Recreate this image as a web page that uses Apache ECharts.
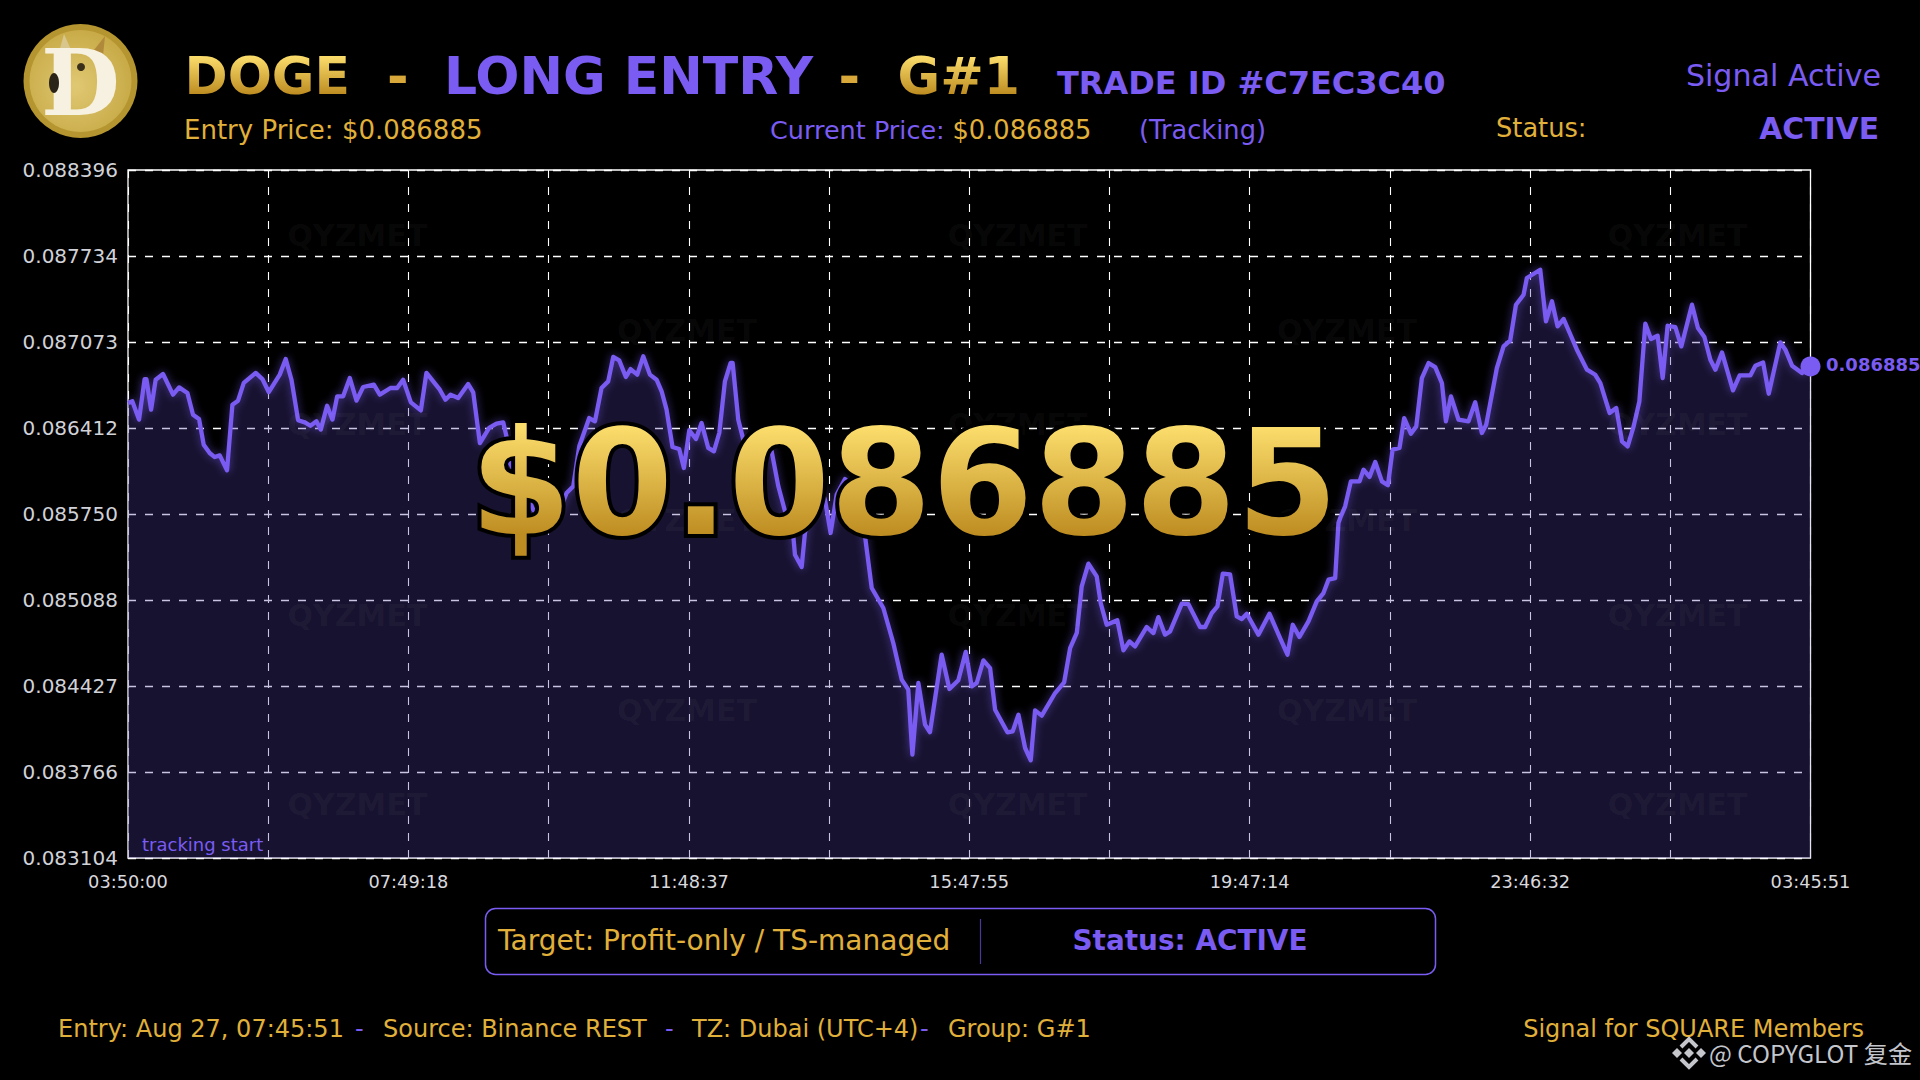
<!DOCTYPE html>
<html><head><meta charset="utf-8"><style>html,body{margin:0;padding:0;background:#000}#c{width:1920px;height:1080px}</style>
<script src="https://cdn.jsdelivr.net/npm/echarts@6/dist/echarts.min.js"></script></head><body><div id="c"></div>
<script>
const elapsedMinutes=[0,3.7,9.4,14.2,15.7,19.7,23.6,29.9,38.4,43.6,50.7,55.5,60.6,64.6,69.7,74,78.3,84.5,89.1,93.9,98.8,109,114.7,120.1,129.5,134.6,139.5,145.2,150.9,155.7,160.8,164.5,169.9,174.5,178.5,183.6,189.3,195,200.7,209.8,214.9,224,229.7,234.8,241.4,249.9,254.7,266.1,270.9,275.2,281.8,290.3,294.6,300.3,308.2,314.5,320.2,323,325.9,337.3,345.8,354.3,368.6,374.3,380,385.1,393.6,398.5,404.1,
409.8,414.1,419.2,424.9,428.9,434.6,439.7,445.4,451.1,455.4,459.6,464.7,470.4,474.4,479,484.7,489.5,495.2,500,504.6,509.4,514.3,516,520.8,525.1,545,549.3,555,560.7,567.8,569.2,574.9,577.7,584.8,590.5,594.8,599.6,604.8,611.9,621.8,629,634.7,644.6,653.1,660.3,665.9,669.4,674.5,680.2,684.4,694.4,701,708.6,714.9,720,724.3,730,735.7,740,750.5,755,759.9,765.6,770.4,774.1,779.8,791.2,798.9,804,809.7,813.9,819.6,
826.7,830.1,835.2,844.3,849.5,854.6,859.4,869.4,875.1,879.3,885,889.3,899.3,904.9,914.9,919.2,924.9,929.7,934.3,940.5,946.2,950.5,954.8,964.7,974.1,983.8,989.5,994,999.7,1007.4,1014.5,1020.2,1024.5,1030.2,1033,
1034.5,1038.7,1043.6,1051,1054.4,1059.5,1064.4,1070.1,1075.2,1079.2,1085.1,
1089.1,1094.8,1099.4,1104.2,1109.9,1115.6,1121.3,1124.7,1129,1135.5,1144,1149.7,1155.4,1159.1,1168.2,1173.9,1179.6,1184.5,1191,1193.8,1205.2,1210.1,1215.2,1220,1225.2,1236.5,1245.1,1252.2,1256.5,1264.4,1270.1,1275,1279.8,1284.9,1289.8,1294.9,1299.7,1305.4,1309.7,1313.9,1320.5,1325.6,1334.7,1339.8,1345.3,1350.4,1354.7,1360.3,1369.7,1375.4,1384.5,1388.8,1395.4,1400.2,1410.1,1414.4,1420.1,1428.6,1435.85];
const priceMicro=[86604,86617,86476,86788,86788,86553,86783,86827,86668,86724,86681,86514,86481,86283,86219,86188,86201,86086,86591,86622,86758,86835,86788,86688,86822,86942,86783,86471,86455,86429,86463,86399,86583,86476,86655,86655,86796,86622,86727,86745,86668,86719,86719,86783,86609,86547,86835,86706,86629,86668,86642,86750,86686,86296,86412,86445,86455,86347,86142,85963,85783,85706,85783,85912,85963,86271,86488,86463,86719,
86770,86958,86932,86804,86865,86822,86963,86822,86783,86694,86553,86265,86250,86104,86394,86327,86450,86258,86232,86373,86770,86912,86912,86476,86322,86322,86232,85963,85771,85578,85437,85342,85604,85860,85963,85860,85604,85899,86019,85937,85578,85181,85027,84758,84476,84399,83899,84450,84130,84071,84668,84404,84471,84689,84424,84450,84624,84565,84245,84071,84078,84206,83950,83855,84240,84199,84373,84455,84719,84835,85194,85368,
85270,85065,84898,84932,84701,84770,84732,84881,84834,84957,84822,84847,85060,85057,84881,84881,84988,85040,85291,85286,84963,84942,84983,84822,84983,84783,84668,84898,84804,84924,85078,85142,85245,85257,85681,
85719,85809,86001,86001,86091,86035,86150,86001,85971,86245,86258,
86488,86368,86424,86796,86911,86880,86757,86463,86655,86475,86463,86609,86373,86437,86873,87039,87086,87360,87437,87565,87629,87232,87386,87193,87250,87014,86860,86821,86757,86527,86565,86309,86270,86424,86616,87214,87096,87121,86796,87198,87188,87039,87360,87180,87111,86937,86860,86993,86701,86816,86816,86891,86916,86675,87070,87014,86891,86834,86885];
const yTickLabels=['0.083104','0.083766','0.084427','0.085088','0.085750','0.086412','0.087073','0.087734','0.088396'];
const xTickLabels=['03:50:00','07:49:18','11:48:37','15:47:55','19:47:14','23:46:32','03:45:51'];
const xLabelMinutes=[0,239.31,478.62,717.92,957.23,1196.54,1435.85];
const xGridMinutes=[0,119.65,239.31,358.96,478.62,598.27,717.92,837.58,957.23,1076.89,1196.54,1316.2,1435.85];
const currentPrice='0.086885';
const watermarkText='QYZMET';

const PURPLE='#7A5CF2',GOLD='#E0B03A',FONT='"DejaVu Sans"',GRAD='#FBDD6D';
function T(s,x,base,size,fill,o){o=o||{};
  return {type:'text',z:o.z||20,x:x,y:base-(o.k===undefined?.346:o.k)*size,silent:true,style:{text:s,fill:fill,font:(o.bold?'bold ':'')+size+'px '+(o.family||FONT),textAlign:o.align||'left',verticalAlign:'middle',stroke:o.stroke,lineWidth:o.lw,lineJoin:'round'}};
}
const el=[];
[[235,0],[330.6,1],[424,0],[520,1],[615,0],[710,1],[804.5,0]].forEach(r=>{
  (r[1]?[687,1347]:[357.5,1017.6,1677.6]).forEach(x=>{
    el.push({type:'text',z:4,x:x,y:r[0],silent:true,style:{text:watermarkText,fill:'rgba(255,255,255,0.045)',font:'bold 30px '+FONT,textAlign:'center',verticalAlign:'middle'}});
  });
});
// coin
el.push({type:'circle',z:20,shape:{cx:80.5,cy:81,r:57},style:{fill:'#B4952F'}});
el.push({type:'circle',z:20,shape:{cx:80.5,cy:81,r:51},style:{fill:{type:'radial',x:.45,y:.55,r:.7,colorStops:[{offset:0,color:'#E0C873'},{offset:1,color:'#C2A33C'}]}}});
el.push({type:'polygon',z:20,shape:{points:[[59,52],[64,34],[72,52]]},style:{fill:'#D9C68C'}});
el.push({type:'polygon',z:20,shape:{points:[[94,50],[105,36],[103,56]]},style:{fill:'#B08A3A'}});
el.push(T('D',41,114,91,'#F6F1E0',{bold:true,family:'"DejaVu Serif"'}));
el.push({type:'ellipse',z:21,shape:{cx:54,cy:83,rx:5,ry:10},style:{fill:'#2A2418'}});
el.push({type:'circle',z:21,shape:{cx:81,cy:67,r:4},style:{fill:'#3A2F18'}});
// header
el.push(T('DOGE',184.5,94,52,GRAD,{bold:true}));
el.push(T('-',387,94,52,'#D8A93A',{bold:true}));
el.push(T('LONG ENTRY',444,94,52,PURPLE,{bold:true}));
el.push(T('-',838.5,94,52,'#D8A93A',{bold:true}));
el.push(T('G#1',897.5,94,52,GRAD,{bold:true}));
el.push(T('TRADE ID #C7EC3C40',1057,94,32,PURPLE,{bold:true}));
el.push(T('Signal Active',1881,86,30.1,PURPLE,{align:'right'}));
el.push(T('Entry Price: $0.086885',184,139,26,GOLD));
el.push(T('Current Price:',770,139,25.5,PURPLE));
el.push(T('$0.086885',952.5,139,25.7,GOLD));
el.push(T('(Tracking)',1139,139,25.7,PURPLE));
el.push(T('Status:',1496,137,25.7,GOLD));
el.push(T('ACTIVE',1879,139,29.8,PURPLE,{bold:true,align:'right'}));
// overlay price
el.push(T('$0.086885',904,534,146,'#000',{bold:true,align:'center',stroke:'#000',lw:8,z:50}));
el.push(T('$0.086885',904,534,146,GRAD,{bold:true,align:'center',z:51}));
el.push(T('tracking start',142,851,18,PURPLE,{z:22}));
// status box
el.push({type:'rect',z:20,shape:{x:485.5,y:908.5,width:950,height:66,r:10},style:{fill:'#000',stroke:PURPLE,lineWidth:1.5}});
el.push({type:'line',z:21,shape:{x1:980.5,y1:919,x2:980.5,y2:964},style:{stroke:'#4A3A98',lineWidth:1.2}});
el.push(T('Target: Profit-only / TS-managed',498,950,28,GOLD,{z:21}));
el.push(T('Status: ACTIVE',1190,950,27.9,PURPLE,{bold:true,align:'center',z:21}));
// footer
el.push(T('Entry: Aug 27, 07:45:51',58,1037,24,GOLD));
el.push(T('-',355,1037,24,PURPLE));
el.push(T('Source: Binance REST',383,1037,24,GOLD));
el.push(T('-',665,1037,24,PURPLE));
el.push(T('TZ: Dubai (UTC+4)',692,1037,24,GOLD));
el.push(T('-',920,1037,24,PURPLE));
el.push(T('Group: G#1',948,1037,24,GOLD));
el.push(T('Signal for SQUARE Members',1864,1037,24,GOLD,{align:'right'}));
// platform mark
const LG='#C4C6CC';
el.push({type:'polygon',z:20,shape:{points:[[1689,1048],[1694,1053],[1689,1058],[1684,1053]]},style:{fill:LG}});
el.push({type:'polygon',z:20,shape:{points:[[1677,1048],[1682,1053],[1677,1058],[1672,1053]]},style:{fill:LG}});
el.push({type:'polygon',z:20,shape:{points:[[1701,1048],[1706,1053],[1701,1058],[1696,1053]]},style:{fill:LG}});
el.push({type:'polyline',z:20,shape:{points:[[1681,1047],[1689,1039],[1697,1047]]},style:{stroke:LG,lineWidth:4,fill:'none'}});
el.push({type:'polyline',z:20,shape:{points:[[1681,1059],[1689,1067],[1697,1059]]},style:{stroke:LG,lineWidth:4,fill:'none'}});
el.push(T('@ COPYGLOT 复金',1709,1061,24.2,LG,{family:'"Noto Sans CJK SC"'}));

const chart=echarts.init(document.getElementById('c'),null,{renderer:'svg',width:1920,height:1080});
const fmtX=v=>{const i=xLabelMinutes.indexOf(v);return i<0?'':xTickLabels[i];};
chart.setOption({
  animation:false,backgroundColor:'#000',
  grid:{left:128,top:170,width:1682.5,height:688,show:true,backgroundColor:'transparent',borderColor:'#fff',borderWidth:1.3},
  xAxis:{type:'value',min:0,max:1435.85,axisLine:{show:false},
    axisTick:{show:false,customValues:xGridMinutes},
    axisLabel:{customValues:xLabelMinutes,formatter:fmtX,color:'#D8D8DE',fontSize:17.8,fontFamily:FONT,margin:14,hideOverlap:false},
    splitLine:{show:true,lineStyle:{color:'#fff',width:1.1,type:[8,9]}}},
  yAxis:{type:'value',min:0.083104,max:0.088396,axisLine:{show:false},
    axisTick:{show:false,customValues:yTickLabels.map(Number)},
    axisLabel:{customValues:yTickLabels.map(Number),formatter:v=>v.toFixed(6),color:'#D0D2D8',fontSize:20,fontFamily:FONT,margin:10,hideOverlap:false},
    splitLine:{show:true,lineStyle:{color:'#fff',width:1.3,type:[8,9]}}},
  graphic:{elements:el},
  series:[
    {type:'line',z:2,clip:false,showSymbol:false,symbol:'none',silent:true,
     data:elapsedMinutes.map((m,i)=>[m,priceMicro[i]/1e6]),
     lineStyle:{color:PURPLE,width:4.3,join:'round',shadowColor:'rgba(122,92,242,0.55)',shadowBlur:9},
     areaStyle:{color:'rgba(77,60,157,0.3)',origin:'start',opacity:1}},
    {type:'scatter',z:3,clip:false,silent:true,symbol:'circle',symbolSize:20,
     data:[[elapsedMinutes[elapsedMinutes.length-1],Number(currentPrice)]],
     itemStyle:{color:PURPLE,opacity:1},
     label:{show:true,position:'right',distance:5.5,offset:[0,-1.5],formatter:currentPrice,color:PURPLE,fontFamily:FONT,fontWeight:'bold',fontSize:18}}
  ]
});
// zrender text cannot take a gradient fill, so the gold headline texts get one on the rendered SVG
function applyGold(){
  const svg=document.querySelector('#c svg'); if(!svg) return;
  if(!svg.querySelector('#goldGrad')){
    const ns='http://www.w3.org/2000/svg';
    const d=document.createElementNS(ns,'defs');
    const g=document.createElementNS(ns,'linearGradient');
    g.setAttribute('id','goldGrad');g.setAttribute('x1','0');g.setAttribute('y1','0');g.setAttribute('x2','0');g.setAttribute('y2','1');
    [[0.17,'#FBDD6C'],[0.8,'#BE8D22']].forEach(s=>{const st=document.createElementNS(ns,'stop');st.setAttribute('offset',s[0]);st.setAttribute('stop-color',s[1]);g.appendChild(st);});
    d.appendChild(g);svg.insertBefore(d,svg.firstChild);
  }
  svg.querySelectorAll('text').forEach(t=>{const f=(t.getAttribute('fill')||'').toLowerCase();
    if(f===GRAD.toLowerCase()||f==='rgb(251,221,109)') t.setAttribute('fill','url(#goldGrad)');});
}
applyGold();
chart.on('finished',applyGold);
setTimeout(applyGold,50);
</script></body></html>
